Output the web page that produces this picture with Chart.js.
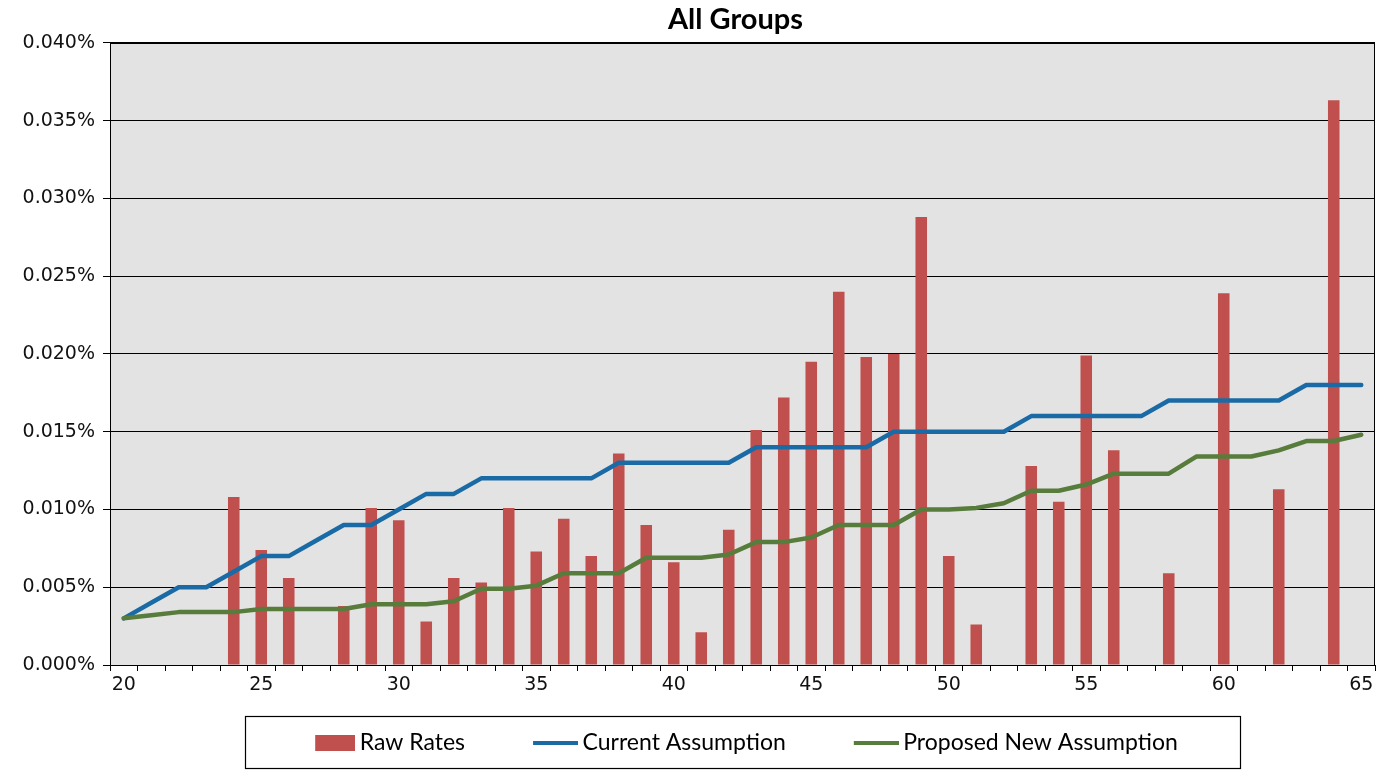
<!DOCTYPE html>
<html>
<head>
<meta charset="utf-8">
<script src="https://cdn.jsdelivr.net/npm/chart.js@4.4.0/dist/chart.umd.min.js"></script>
<style>
  html, body { margin: 0; padding: 0; background: #ffffff; }
  #wrap { width: 1390px; height: 770px; position: relative; }
</style>
</head>
<body>
<div id="wrap"><canvas id="c" width="1390" height="770"></canvas></div>
<script>
// ---- Data (values in percent, e.g. 0.0108 means 0.0108%) ----
const ages = [20,21,22,23,24,25,26,27,28,29,30,31,32,33,34,35,36,37,38,39,40,41,42,43,44,45,46,47,48,49,50,51,52,53,54,55,56,57,58,59,60,61,62,63,64,65];

const rawRates = [null,null,null,null,0.0108,0.0074,0.0056,null,0.0038,0.0101,
                  0.0093,0.0028,0.0056,0.0053,0.0101,0.0073,0.0094,0.0070,0.0136,0.0090,
                  0.0066,0.0021,0.0087,0.0151,0.0172,0.0195,0.0240,0.0198,0.0200,0.0288,
                  0.0070,0.0026,null,0.0128,0.0105,0.0199,0.0138,null,0.0059,null,
                  0.0239,null,0.0113,null,0.0363,null];

const currentAssumption = [0.003,0.004,0.005,0.005,0.006,0.007,0.007,0.008,0.009,0.009,
                           0.010,0.011,0.011,0.012,0.012,0.012,0.012,0.012,0.013,0.013,
                           0.013,0.013,0.013,0.014,0.014,0.014,0.014,0.014,0.015,0.015,
                           0.015,0.015,0.015,0.016,0.016,0.016,0.016,0.016,0.017,0.017,
                           0.017,0.017,0.017,0.018,0.018,0.018];

const proposedAssumption = [0.0030,0.0032,0.0034,0.0034,0.0034,0.0036,0.0036,0.0036,0.0036,0.0039,
                            0.0039,0.0039,0.0041,0.0049,0.0049,0.0051,0.0059,0.0059,0.0059,0.0069,
                            0.0069,0.0069,0.0071,0.0079,0.0079,0.0082,0.0090,0.0090,0.0090,0.0100,
                            0.0100,0.0101,0.0104,0.0112,0.0112,0.0116,0.0123,0.0123,0.0123,0.0134,
                            0.0134,0.0134,0.0138,0.0144,0.0144,0.0148];

const yTicks = [0, 0.005, 0.010, 0.015, 0.020, 0.025, 0.030, 0.035, 0.040];
const xLabelEvery = 5;
const seriesNames = ['Raw Rates', 'Current Assumption', 'Proposed New Assumption'];
const titleText = 'All Groups';

// ---- Styles ----
const RED = '#C0504D', BLUE = '#1A6BA5', GREEN = '#577C3C';
const PLOT_BG = '#E3E3E3';
const BOXW = 86, IMGW = 100;

function markerImage(color, w, h) {
  const cv = document.createElement('canvas');
  cv.width = IMGW; cv.height = h;
  const cx = cv.getContext('2d');
  cx.fillStyle = color;
  cx.fillRect(IMGW - w, 0, w, h);
  return cv;
}
const markers = [markerImage(RED, 40, 16), markerImage(BLUE, 45, 4), markerImage(GREEN, 45, 4)];

const plotDecor = {
  id: 'plotDecor',
  beforeDraw(chart) {
    const a = chart.chartArea, ctx = chart.ctx;
    ctx.save();
    ctx.fillStyle = PLOT_BG;
    ctx.fillRect(a.left, a.top, a.right - a.left, a.bottom - a.top);
    ctx.restore();
  },
  afterDatasetsDraw(chart) {
    const a = chart.chartArea, ctx = chart.ctx;
    ctx.save();
    ctx.strokeStyle = '#000';
    ctx.lineWidth = 1;
    ctx.strokeRect(Math.round(a.left) + 0.5, Math.round(a.top) + 0.5,
                   Math.round(a.right - a.left) - 1, Math.round(a.bottom - a.top));
    ctx.restore();
  },
  afterLayout(chart) {
    const plotMid = (chart.chartArea.left + chart.chartArea.right) / 2;
    const tb = chart.titleBlock;
    if (tb) {
      const dxT = (plotMid - 7) - (tb.left + tb.right) / 2;
      tb.left += dxT; tb.right += dxT;
    }
    const lg = chart.legend;
    if (!lg || !lg.lineWidths) return;
    const pad = lg.options.labels.padding;
    const lw = lg.lineWidths[0];
    const curX = (lg.left + pad + lg.right - lw) / 2;
    const contentL = curX + BOXW / 2 + IMGW / 2 - 40;
    const contentR = curX + lw - pad;
    const dx = (plotMid + 4) - (contentL + contentR) / 2;
    lg.left += dx; lg.right += dx;
  },
  afterDraw(chart) {
    const lg = chart.legend;
    if (!lg || !lg.lineWidths) return;
    const pad = lg.options.labels.padding;
    const fs = lg.options.labels.font.size;
    const lw = lg.lineWidths[0];
    const curX = (lg.left + pad + lg.right - lw) / 2;
    const contentL = curX + BOXW / 2 + IMGW / 2 - 40;
    const contentR = curX + lw - pad;
    const textTop = lg.top + pad;
    const ctx = chart.ctx;
    ctx.save();
    ctx.strokeStyle = '#000';
    ctx.lineWidth = 1.2;
    ctx.strokeRect(Math.round(contentL - 70) + 0.5, Math.round(textTop - 15) + 0.5,
                   Math.round(contentR + 62 - (contentL - 70)), Math.round(fs + 29));
    ctx.restore();
  }
};

const ctx = document.getElementById('c').getContext('2d');
new Chart(ctx, {
  type: 'bar',
  data: {
    labels: ages,
    datasets: [
      {
        type: 'bar', label: seriesNames[0], data: rawRates,
        backgroundColor: RED, borderWidth: 0,
        barPercentage: 0.42, categoryPercentage: 1.0, order: 3
      },
      {
        type: 'line', label: seriesNames[1], data: currentAssumption,
        borderColor: BLUE, backgroundColor: BLUE, borderWidth: 4.5,
        pointRadius: 0, tension: 0, borderJoinStyle: 'round', borderCapStyle: 'round',
        fill: false, order: 2
      },
      {
        type: 'line', label: seriesNames[2], data: proposedAssumption,
        borderColor: GREEN, backgroundColor: GREEN, borderWidth: 4.5,
        pointRadius: 0, tension: 0, borderJoinStyle: 'round', borderCapStyle: 'round',
        fill: false, order: 1
      }
    ]
  },
  options: {
    responsive: false,
    animation: false,
    layout: { padding: { left: 0, right: 15, top: 0, bottom: 6 } },
    plugins: {
      tooltip: { enabled: false },
      title: {
        display: true, text: titleText, color: '#000',
        font: { family: 'Lato, "Open Sans", sans-serif', size: 29, weight: 'bold' },
        padding: { top: 2, bottom: 6 }
      },
      legend: {
        display: true, position: 'bottom',
        labels: {
          usePointStyle: true, pointStyleWidth: BOXW,
          padding: 20, color: '#000',
          font: { family: 'Lato, "Open Sans", sans-serif', size: 23 },
          generateLabels(chart) {
            return chart.data.datasets.map((ds, i) => ({
              text: ds.label, fillStyle: ds.backgroundColor, strokeStyle: ds.borderColor,
              lineWidth: 0, pointStyle: markers[i], datasetIndex: i, hidden: false,
              fontColor: '#000'
            }));
          }
        }
      }
    },
    scales: {
      x: {
        type: 'category', offset: true,
        grid: { display: true, offset: true, drawOnChartArea: false, drawTicks: true,
                tickLength: 6, color: '#000', lineWidth: 1 },
        border: { display: true, color: '#000', width: 1 },
        ticks: {
          autoSkip: false, maxRotation: 0, minRotation: 0, padding: 3, color: '#111',
          font: { family: '"DejaVu Sans", sans-serif', size: 19 },
          callback(value) {
            const lab = this.getLabelForValue(value);
            return (lab % xLabelEvery === 0) ? String(lab) : '';
          }
        },
        afterFit(scale) { scale.height = 46; }
      },
      y: {
        min: yTicks[0], max: yTicks[yTicks.length - 1],
        afterBuildTicks(scale) { scale.ticks = yTicks.map(v => ({ value: v })); },
        grid: { display: true, color: '#000', lineWidth: 1, drawTicks: true, tickLength: 7 },
        border: { display: true, color: '#000', width: 1 },
        ticks: {
          padding: 8, color: '#111',
          font: { family: '"DejaVu Sans", sans-serif', size: 19 },
          callback(value) { return value.toFixed(3) + '%'; }
        },
        afterFit(scale) { scale.width = 110; }
      }
    }
  },
  plugins: [plotDecor]
});
</script>
</body>
</html>
